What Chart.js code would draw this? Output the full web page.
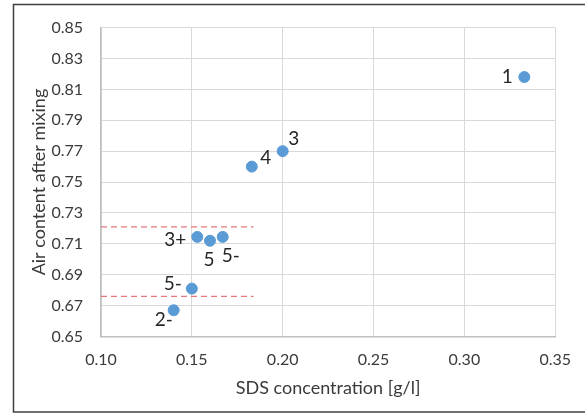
<!DOCTYPE html>
<html>
<head>
<meta charset="utf-8">
<script src="https://cdn.jsdelivr.net/npm/chart.js@4/dist/chart.umd.min.js"></script>
<style>
html,body{margin:0;padding:0;background:#fff;}
#wrap{width:585px;height:413px;position:relative;}
</style>
</head>
<body>
<div id="wrap"><canvas id="c" width="585" height="413"></canvas></div>
<script>
// Data
const sampleLabels = ["1", "3", "4", "3+", "5", "5-", "5-", "2-"];
const sdsConcentration = [0.333, 0.200, 0.183, 0.153, 0.160, 0.167, 0.150, 0.140];
const airContent = [0.818, 0.770, 0.760, 0.7145, 0.712, 0.7145, 0.681, 0.667];
const rangeUpper = 0.721;
const rangeLower = 0.676;
const rangeStartX = 0.10;
const rangeEndX = 0.184;
const xTicks = [0.10, 0.15, 0.20, 0.25, 0.30, 0.35];
const yTicks = [0.65, 0.67, 0.69, 0.71, 0.73, 0.75, 0.77, 0.79, 0.81, 0.83, 0.85];

// label offsets (style only, pixels)
const labelOffsets = [[-17,0],[11,-12],[14,-9],[-22,3],[-1,19],[8,19],[-19,-5],[-10,10]];

const FONT = "Lato, 'Open Sans', sans-serif";
const TXT = '#3a3a3a';

const points = sdsConcentration.map((x, i) => ({x: x, y: airContent[i]}));

const borderPlugin = {
  id: 'outerBorder',
  afterDraw(chart) {
    const ctx = chart.ctx;
    ctx.save();
    ctx.strokeStyle = '#404040';
    ctx.lineWidth = 1.5;
    ctx.strokeRect(13.5, 4.5, 620, 407.5);
    ctx.restore();
  }
};

const labelPlugin = {
  id: 'pointLabels',
  afterDatasetsDraw(chart) {
    const ctx = chart.ctx;
    const meta = chart.getDatasetMeta(2);
    ctx.save();
    ctx.font = "19px " + FONT;
    ctx.fillStyle = '#262626';
    ctx.textAlign = 'center';
    ctx.textBaseline = 'middle';
    meta.data.forEach((el, i) => {
      const o = labelOffsets[i];
      ctx.fillText(sampleLabels[i], el.x + o[0], el.y + o[1]);
    });
    ctx.restore();
  }
};

new Chart(document.getElementById('c'), {
  type: 'scatter',
  data: {
    datasets: [
      {
        type: 'line',
        data: [{x: rangeStartX, y: rangeUpper}, {x: rangeEndX, y: rangeUpper}],
        borderColor: '#e8777a',
        borderWidth: 1.2,
        borderDash: [6, 4],
        pointRadius: 0,
        fill: false
      },
      {
        type: 'line',
        data: [{x: rangeStartX, y: rangeLower}, {x: rangeEndX, y: rangeLower}],
        borderColor: '#e8777a',
        borderWidth: 1.2,
        borderDash: [6, 4],
        pointRadius: 0,
        fill: false
      },
      {
        data: points,
        backgroundColor: '#5b9bd5',
        borderColor: '#5b9bd5',
        pointRadius: 5.5,
        pointHoverRadius: 5.5
      }
    ]
  },
  options: {
    responsive: false,
    animation: false,
    events: [],
    layout: {padding: {left: 28, right: 27, top: 24, bottom: 14}},
    plugins: {legend: {display: false}, tooltip: {enabled: false}},
    scales: {
      x: {
        type: 'linear',
        min: 0.10, max: 0.35,
        afterBuildTicks(s) { s.ticks = xTicks.map(v => ({value: v})); },
        afterFit(s) { s.height = 62.5; },
        grid: {color: '#d9d9d9', lineWidth: 1, drawTicks: false},
        border: {color: '#bfbfbf', width: 1.5},
        ticks: {
          padding: 14,
          color: TXT,
          font: {family: FONT, size: 16},
          callback: v => v.toFixed(2)
        },
        title: {
          display: true,
          text: 'SDS concentration [g/l]',
          color: TXT,
          font: {family: FONT, size: 18},
          padding: 0
        }
      },
      y: {
        type: 'linear',
        min: 0.65, max: 0.85,
        afterBuildTicks(s) { s.ticks = yTicks.map(v => ({value: v})); },
        afterFit(s) { s.width = 73; },
        grid: {color: '#d9d9d9', lineWidth: 1, drawTicks: false},
        border: {color: '#bfbfbf', width: 1.5},
        ticks: {
          padding: 18,
          color: TXT,
          font: {family: FONT, size: 16},
          callback: v => v.toFixed(2)
        },
        title: {
          display: true,
          text: 'Air content after mixing',
          color: TXT,
          font: {family: FONT, size: 18},
          padding: 0
        }
      }
    }
  },
  plugins: [borderPlugin, labelPlugin]
});
</script>
</body>
</html>
